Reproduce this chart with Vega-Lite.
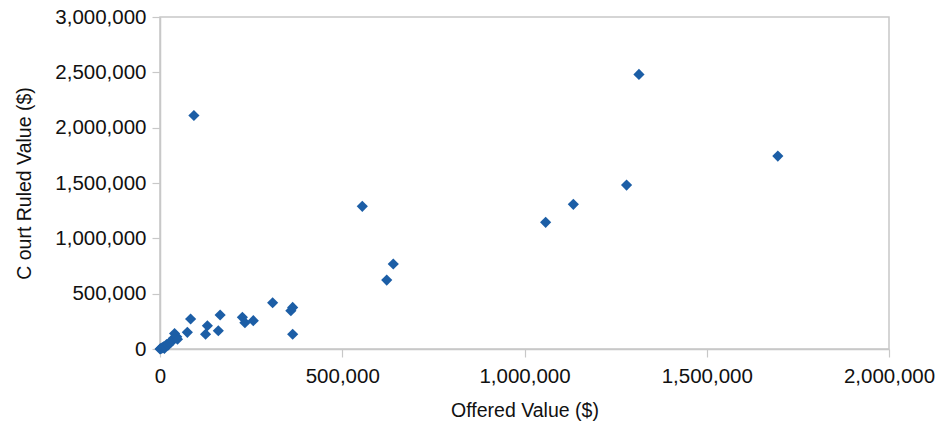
{
  "$schema": "https://vega.github.io/schema/vega-lite/v6.json",
  "autosize": "none",
  "width": 729,
  "height": 332,
  "padding": {"left": 160, "top": 17, "right": 49, "bottom": 76},
  "background": "white",
  "config": {
    "view": {"stroke": "#c8c8c8", "strokeWidth": 1.5},
    "axis": {
      "grid": false,
      "domainColor": "#c8c8c8",
      "domainWidth": 1.5,
      "tickColor": "#c8c8c8",
      "tickWidth": 1.2,
      "tickSize": 8,
      "labelFont": "Liberation Sans",
      "labelFontSize": 20.5,
      "labelColor": "#111111",
      "titleFont": "Liberation Sans",
      "titleFontSize": 19.5,
      "titleFontWeight": "normal",
      "titleColor": "#111111"
    }
  },
  "data": {
    "values": [
      {"offered": 0, "court": 0},
      {"offered": 2000, "court": 3000},
      {"offered": 5000, "court": 8000},
      {"offered": 8000, "court": 12000},
      {"offered": 12000, "court": 5000},
      {"offered": 10000, "court": 20000},
      {"offered": 15000, "court": 25000},
      {"offered": 18000, "court": 40000},
      {"offered": 22000, "court": 35000},
      {"offered": 25000, "court": 55000},
      {"offered": 30000, "court": 62000},
      {"offered": 35000, "court": 78000},
      {"offered": 38000, "court": 100000},
      {"offered": 40000, "court": 140000},
      {"offered": 46000, "court": 111000},
      {"offered": 48000, "court": 88000},
      {"offered": 75000, "court": 151000},
      {"offered": 84000, "court": 271000},
      {"offered": 125000, "court": 133000},
      {"offered": 130000, "court": 210000},
      {"offered": 160000, "court": 165000},
      {"offered": 165000, "court": 307000},
      {"offered": 226000, "court": 286000},
      {"offered": 233000, "court": 238000},
      {"offered": 256000, "court": 256000},
      {"offered": 309000, "court": 418000},
      {"offered": 359000, "court": 346000},
      {"offered": 364000, "court": 376000},
      {"offered": 364000, "court": 133000},
      {"offered": 93000, "court": 2110000},
      {"offered": 555000, "court": 1289000},
      {"offered": 622000, "court": 623000},
      {"offered": 640000, "court": 768000},
      {"offered": 1058000, "court": 1145000},
      {"offered": 1134000, "court": 1307000},
      {"offered": 1280000, "court": 1481000},
      {"offered": 1314000, "court": 2481000},
      {"offered": 1695000, "court": 1743000}
    ]
  },
  "mark": {"type": "point", "shape": "diamond", "filled": true, "size": 125, "color": "#1c5ea6", "opacity": 1},
  "encoding": {
    "x": {
      "field": "offered",
      "type": "quantitative",
      "title": "Offered Value ($)",
      "scale": {"domain": [0, 2000000], "nice": false, "zero": true},
      "axis": {"values": [0, 500000, 1000000, 1500000, 2000000], "format": ",d", "labelPadding": 9, "titlePadding": 15, "labelFlush": false}
    },
    "y": {
      "field": "court",
      "type": "quantitative",
      "title": "C ourt Ruled Value ($)",
      "scale": {"domain": [0, 3000000], "nice": false},
      "axis": {"values": [0, 500000, 1000000, 1500000, 2000000, 2500000, 3000000], "format": ",d", "labelPadding": 6, "titlePadding": 20, "labelFlush": false}
    }
  }
}
